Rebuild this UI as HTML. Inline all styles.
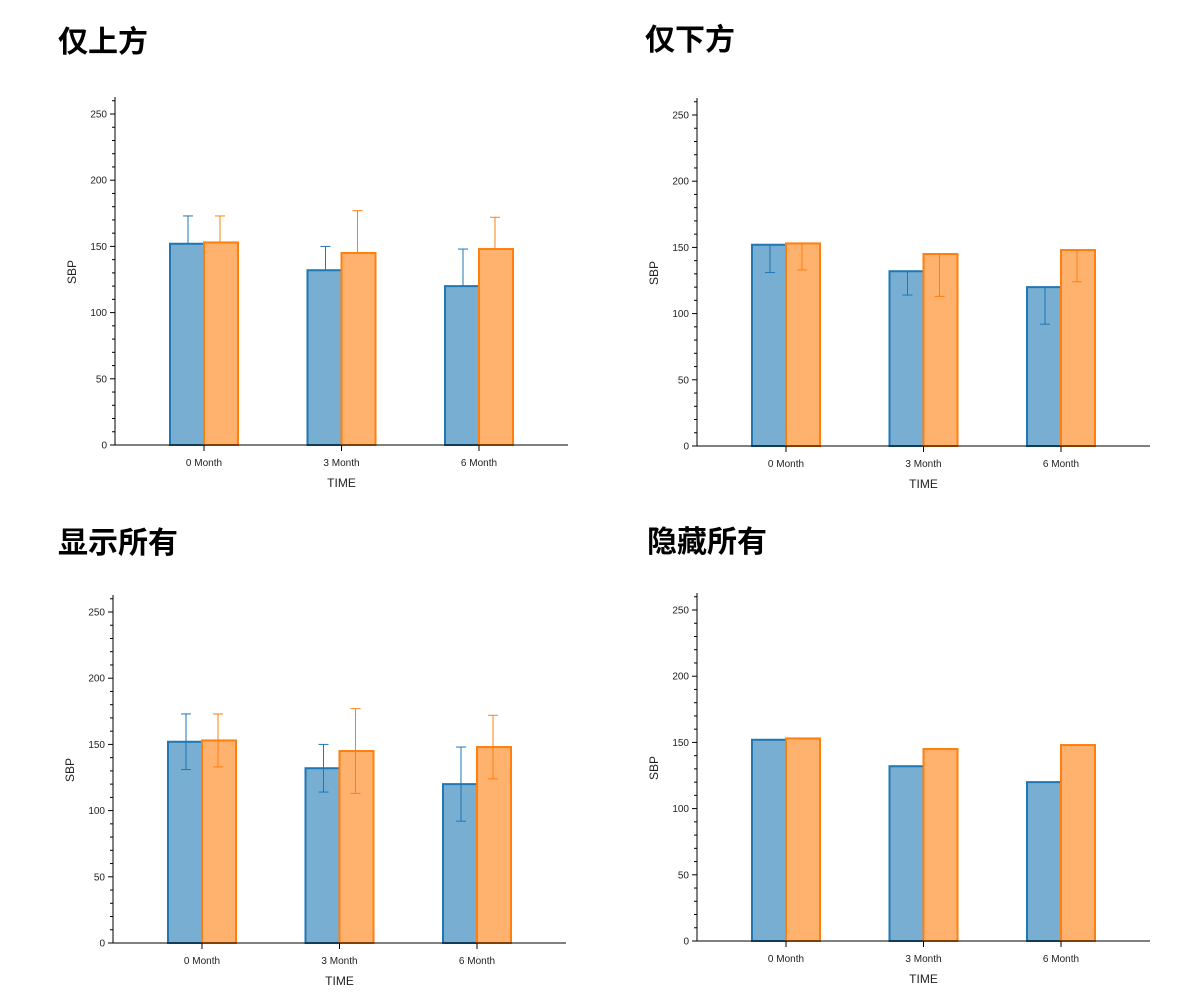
<!DOCTYPE html>
<html><head><meta charset="utf-8">
<style>
body{margin:0;background:#fff;width:1200px;height:1000px;overflow:hidden;font-family:"Liberation Sans","Noto Sans CJK SC",sans-serif;}
svg{position:absolute;left:0;top:0}
</style></head>
<body>
<svg id="root" width="1200" height="1000"></svg>
<script>
const categories = ["0 Month","3 Month","6 Month"];
const seriesA = [152,132,120];
const seriesB = [153,145,148];
const errA = [21,18,28];
const errB = [20,32,24];
const yTicks = [0,50,100,150,200,250];
const panels = [
  {title:"仅上方", tx:58, ty:52, x0:115, y0:445, mode:"upper", name:"upper-only"},
  {title:"仅下方", tx:645, ty:50, x0:697, y0:446, mode:"lower", name:"lower-only"},
  {title:"显示所有", tx:58, ty:553, x0:113, y0:943, mode:"both", name:"show-all"},
  {title:"隐藏所有", tx:647, ty:552, x0:697, y0:941, mode:"none", name:"hide-all"}
];
const NS="http://www.w3.org/2000/svg";
const root=document.getElementById('root');
function mk(tag,attrs,parent){const e=document.createElementNS(NS,tag);for(const k in attrs)e.setAttribute(k,attrs[k]);parent.appendChild(e);return e;}
const W=453, PXPER=66.2/50, BW=34;
panels.forEach(p=>{
  const g=mk('g',{},root);
  
  
  const y=v=>p.y0-v*PXPER;
  const xc=i=>p.x0+89+i*137.5;
  const t=mk('text',{x:p.tx,y:p.ty,'font-size':30,'font-weight':'bold',fill:'#000'},g);
  t.textContent=p.title;
  
  
  // y axis
  const ya=mk('line',{x1:p.x0,x2:p.x0,y1:p.y0,y2:p.y0-348,stroke:'#000','stroke-width':1},g);
  
  
  for(let v=0;v<=260;v+=10){
    const major=v%50===0;
    mk('line',{x1:p.x0-(major?5:3),x2:p.x0,y1:y(v),y2:y(v),stroke:'#000','stroke-width':1},g);
  }
  yTicks.forEach(v=>{
    const tl=mk('text',{x:p.x0-8,y:y(v)+3.5,'font-size':10,'text-anchor':'end',fill:'#222'},g);
    tl.textContent=v;
    
    
  });
  const yt=mk('text',{x:0,y:0,'font-size':12,'text-anchor':'middle',fill:'#222',transform:`translate(${p.x0-39},${p.y0-173}) rotate(-90)`},g);
  yt.textContent='SBP';
  
  
  // bars
  categories.forEach((c,i)=>{
    const cx=xc(i);
    const ba=mk('rect',{x:cx-BW,y:y(seriesA[i]),width:BW,height:seriesA[i]*PXPER,fill:'#77aed2',stroke:'#1f77b4','stroke-width':2},g);
    
    
    const bb=mk('rect',{x:cx,y:y(seriesB[i]),width:BW,height:seriesB[i]*PXPER,fill:'#ffb26e',stroke:'#ff7f0e','stroke-width':2},g);
    
    
    [[cx-BW/2+1,seriesA[i],errA[i],'#1f77b4'],[cx+BW/2-1,seriesB[i],errB[i],'#ff7f0e']].forEach(([ex,v,e,col])=>{
      if(p.mode==='none')return;
      const hi=(p.mode==='upper'||p.mode==='both')?v+e:v;
      const lo=(p.mode==='lower'||p.mode==='both')?v-e:v;
      const eg=mk('g',{stroke:col,'stroke-width':1},g);
      
      
      mk('line',{x1:ex,x2:ex,y1:y(hi),y2:y(lo)},eg);
      if(hi!==v)mk('line',{x1:ex-5,x2:ex+5,y1:y(hi),y2:y(hi)},eg);
      if(lo!==v)mk('line',{x1:ex-5,x2:ex+5,y1:y(lo),y2:y(lo)},eg);
    });
    mk('line',{x1:cx,x2:cx,y1:p.y0,y2:p.y0+6,stroke:'#000'},g);
    const xl=mk('text',{x:cx,y:p.y0+21,'font-size':10,'text-anchor':'middle',fill:'#222'},g);
    xl.textContent=c;
    
    
  });
  const xa=mk('line',{x1:p.x0,x2:p.x0+W,y1:p.y0,y2:p.y0,stroke:'#000','stroke-width':1},g);
  
  
  const xt=mk('text',{x:xc(1),y:p.y0+42,'font-size':12,'text-anchor':'middle',fill:'#222'},g);
  xt.textContent='TIME';
  
  
});
</script>
</body></html>
